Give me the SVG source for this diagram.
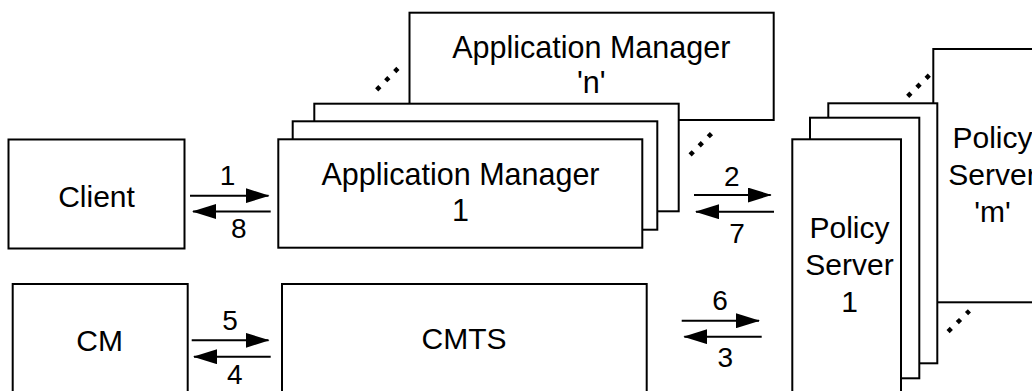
<svg xmlns="http://www.w3.org/2000/svg" width="1032" height="391" viewBox="0 0 1032 391">
<style>
.box{fill:#fff;stroke:#000;stroke-width:2}
.t{font-family:"Liberation Sans",Arial,sans-serif;font-size:30px;fill:#000;text-anchor:middle}
.am{font-size:30.5px}
.n{font-family:"Liberation Sans",Arial,sans-serif;font-size:28px;fill:#000;text-anchor:middle}
.ln{stroke:#000;stroke-width:2;fill:none}
.dots{stroke:#000;stroke-width:4.5;stroke-dasharray:4.5 8.35;fill:none}
</style>
<defs>
<marker id="ah" viewBox="0 0 24 15" refX="23" refY="7.5" markerWidth="24" markerHeight="15" markerUnits="userSpaceOnUse" orient="auto">
<path d="M0,0 L24,7.5 L0,15 z" fill="#000"/>
</marker>
</defs>
<rect width="1032" height="391" fill="#fff"/>
<g id="client"><rect class="box" x="8.5" y="139.5" width="176" height="109"/><text class="t" x="96.5" y="206.5">Client</text></g>
<g id="cm"><rect class="box" x="12.7" y="284" width="175" height="130"/><text class="t" x="99.7" y="351">CM</text></g>
<g id="cmts"><rect class="box" x="282" y="284" width="364.7" height="130"/><text class="t" x="464" y="349">CMTS</text></g>
<g id="am-n"><rect class="box" x="409.5" y="12.7" width="364.2" height="107.3"/><text class="t am" x="591.3" y="58.3">Application Manager</text><text class="t am" x="591.3" y="93.3">'n'</text></g>
<g id="am-3"><rect class="box" x="314.3" y="103.7" width="364.4" height="107.6"/></g>
<g id="am-2"><rect class="box" x="292.7" y="121.3" width="364.6" height="108.4"/></g>
<g id="am-1"><rect class="box" x="278.3" y="139.3" width="364" height="108.4"/><text class="t am" x="460.5" y="185">Application Manager</text><text class="t am" x="460.5" y="220.7">1</text></g>
<g id="ps-m"><rect class="box" x="933.3" y="49" width="120" height="253.3"/><text class="t" x="992.5" y="148.3">Policy</text><text class="t" x="992.5" y="185">Server</text><text class="t" x="992.5" y="221.7">'m'</text></g>
<g id="ps-3"><rect class="box" x="828.3" y="103.3" width="109" height="260"/></g>
<g id="ps-2"><rect class="box" x="810" y="117.7" width="109.3" height="260.6"/></g>
<g id="ps-1"><rect class="box" x="792.3" y="139.3" width="108.7" height="270"/><text class="t" x="849.5" y="238.3">Policy</text><text class="t" x="849.5" y="275">Server</text><text class="t" x="849.5" y="311.7">1</text></g>
<g id="connectors">
<line class="ln" x1="190" y1="195.7" x2="268.5" y2="195.7" marker-end="url(#ah)"/>
<line class="ln" x1="270.7" y1="211.5" x2="193" y2="211.5" marker-end="url(#ah)"/>
<line class="ln" x1="191.7" y1="340.3" x2="268.5" y2="340.3" marker-end="url(#ah)"/>
<line class="ln" x1="270.7" y1="356.7" x2="194" y2="356.7" marker-end="url(#ah)"/>
<line class="ln" x1="694" y1="195" x2="770.7" y2="195" marker-end="url(#ah)"/>
<line class="ln" x1="774" y1="211.7" x2="696" y2="211.7" marker-end="url(#ah)"/>
<line class="ln" x1="681.7" y1="320.7" x2="759" y2="320.7" marker-end="url(#ah)"/>
<line class="ln" x1="761.7" y1="336.7" x2="684.3" y2="336.7" marker-end="url(#ah)"/>
<text class="n" x="227.5" y="185">1</text>
<text class="n" x="238.7" y="238.3">8</text>
<text class="n" x="230" y="330">5</text>
<text class="n" x="234.7" y="383.5">4</text>
<text class="n" x="731.7" y="185.7">2</text>
<text class="n" x="737" y="243.3">7</text>
<text class="n" x="720" y="310">6</text>
<text class="n" x="725.3" y="367">3</text>
<line class="dots" x1="376.7" y1="89.9" x2="397.9" y2="68.4"/>
<line class="dots" x1="690.1" y1="154.9" x2="711.6" y2="133.4"/>
<line class="dots" x1="907.7" y1="96.3" x2="929.4" y2="75.1"/>
<line class="dots" x1="948.1" y1="331.6" x2="969.4" y2="310.9"/>
</g>
</svg>
